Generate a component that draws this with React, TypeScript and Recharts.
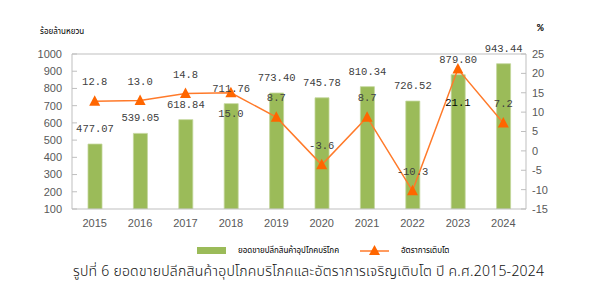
import React from 'react';
import { ComposedChart, Bar, Line, XAxis, YAxis, LabelList, ReferenceLine } from 'recharts';

const years = ['2015', '2016', '2017', '2018', '2019', '2020', '2021', '2022', '2023', '2024'];
const retailSales = [477.07, 539.05, 618.84, 711.76, 773.4, 745.78, 810.34, 726.52, 879.8, 943.44];
const growthRate = [12.8, 13.0, 14.8, 15.0, 8.7, -3.6, 8.7, -10.3, 21.1, 7.2];
const leftTicks = [100, 200, 300, 400, 500, 600, 700, 800, 900, 1000];
const rightTicks = [-15, -10, -5, 0, 5, 10, 15, 20, 25];

const salesName = 'ยอดขายปลีกสินค้าอุปโภคบริโภค';
const growthName = 'อัตราการเติบโต';
const leftUnit = 'ร้อยล้านหยวน';
const rightUnit = '%';
const title = 'รูปที่ 6 ยอดขายปลีกสินค้าอุปโภคบริโภคและอัตราการเจริญเติบโต ปี ค.ศ.2015-2024';

const data = years.map((y, i) => ({ year: y, sales: retailSales[i], growth: growthRate[i] }));

const AXIS = '#bfbfbf';
const TICK = '#595959';
const GREEN = '#9BBB59';
const ORANGE_LINE = '#FF7A2A';
const ORANGE = '#FF6600';
const MONO = '"Liberation Mono", "DejaVu Sans Mono", monospace';
const THAI = '"Noto Sans", "Noto Sans Thai", "Loma", sans-serif';

const Triangle = (props: any) => {
  const { cx, cy } = props;
  if (cx == null || cy == null) return null;
  return <polygon points={`${cx},${cy - 6} ${cx + 5.5},${cy + 4.5} ${cx - 5.5},${cy + 4.5}`} fill={ORANGE} />;
};

// labels placed below the marker for these years
const belowShift: Record<string, number> = { '2018': 24, '2023': 37 };

const GrowthLabel = (props: any) => {
  const { x, y, value, index } = props;
  const yr = years[index];
  const shift = belowShift[yr];
  const ty = shift != null ? y + shift : y - 16;
  return (
    <text x={x} y={ty} textAnchor="middle" fontFamily={MONO} fontSize={10.5}
      fill={yr === '2023' ? '#000' : '#404040'}>
      {Number(value).toFixed(1)}
    </text>
  );
};

const SalesLabel = (props: any) => {
  const { x, y, width, value } = props;
  return (
    <text x={x + width / 2} y={y - 12} textAnchor="middle" fontFamily={MONO} fontSize={10.5} fill="#404040">
      {Number(value).toFixed(2)}
    </text>
  );
};

export default function App() {
  return (
    <div style={{ position: 'absolute', left: 0, top: 0, width: 595, height: 301, background: '#fff' }}>
      <ComposedChart width={595} height={301} data={data}
        margin={{ top: 54, right: 29, left: 32, bottom: 72 }}>
        <XAxis dataKey="year" axisLine={{ stroke: AXIS }} tickLine={false} height={20} tickMargin={4}
          tick={{ fill: TICK, fontSize: 11, fontFamily: '"Liberation Sans", Arial, sans-serif' }} />
        <YAxis yAxisId="left" domain={[100, 1000]} ticks={leftTicks} width={40} interval={0}
          axisLine={{ stroke: AXIS }} tickLine={{ stroke: AXIS }} tickSize={-5} tickMargin={15}
          tick={{ fill: TICK, fontSize: 11, fontFamily: '"Liberation Sans", Arial, sans-serif' }} allowDataOverflow />
        <YAxis yAxisId="right" orientation="right" domain={[-15, 25]} ticks={rightTicks} width={40} interval={0}
          axisLine={{ stroke: AXIS }} tickLine={{ stroke: AXIS }} tickSize={-5} tickMargin={11}
          tick={{ fill: TICK, fontSize: 11, fontFamily: '"Liberation Sans", Arial, sans-serif' }} allowDataOverflow />
        <ReferenceLine yAxisId="left" y={1000} stroke={AXIS} />
        <Bar yAxisId="left" dataKey="sales" fill={GREEN} stroke="#C3D69B" strokeWidth={0.8} barSize={14} isAnimationActive={false}>
          <LabelList dataKey="sales" content={SalesLabel} />
        </Bar>
        <Line yAxisId="right" dataKey="growth" stroke={ORANGE_LINE} strokeWidth={1.5}
          dot={<Triangle />} activeDot={false} isAnimationActive={false}>
          <LabelList dataKey="growth" content={GrowthLabel} />
        </Line>
      </ComposedChart>

      <div style={{ position: 'absolute', left: 40, top: 25, fontFamily: THAI, fontSize: 8, color: '#000', whiteSpace: 'nowrap' }}>{leftUnit}</div>
      <div style={{ position: 'absolute', left: 537, top: 22, fontFamily: MONO, fontSize: 11, fontWeight: 'bold', color: '#000' }}>{rightUnit}</div>

      <div style={{ position: 'absolute', left: 197, top: 247, width: 29, height: 7, background: GREEN }} />
      <div style={{ position: 'absolute', left: 238, top: 244, fontFamily: THAI, fontSize: 8, color: '#000', whiteSpace: 'nowrap' }}>{salesName}</div>
      <svg style={{ position: 'absolute', left: 358, top: 243 }} width={34} height={14}>
        <line x1={2} y1={8} x2={31} y2={8} stroke={ORANGE_LINE} strokeWidth={1.5} />
        <polygon points="16.5,2 22,12 11,12" fill={ORANGE} />
      </svg>
      <div style={{ position: 'absolute', left: 401, top: 244, fontFamily: THAI, fontSize: 8, color: '#000', whiteSpace: 'nowrap' }}>{growthName}</div>

      <div style={{ position: 'absolute', left: 73, top: 261, fontFamily: THAI, fontSize: 14, fontWeight: 300, letterSpacing: 0.25, color: '#111', whiteSpace: 'nowrap' }}>{title}</div>
    </div>
  );
}
